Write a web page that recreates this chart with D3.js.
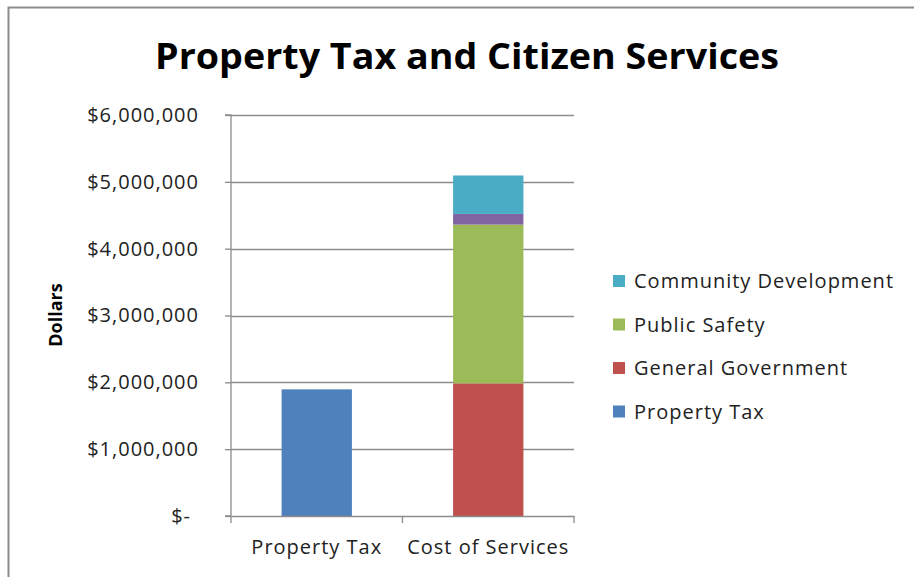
<!DOCTYPE html>
<html>
<head>
<meta charset="utf-8">
<script src="https://cdn.jsdelivr.net/npm/d3@7"></script>
<style>
  body { margin: 0; background: #fff; }
  svg { font-family: "Open Sans", sans-serif; }
</style>
</head>
<body>
<div id="vis"></div>
<script>
// data
const CATEGORIES = ["Property Tax", "Cost of Services"];
const SERIES = ["Property Tax", "General Government", "Public Safety", "Other", "Community Development"];
const PROPERTY_TAX = [1895000, 0];
const GENERAL_GOVERNMENT = [0, 1985000];
const PUBLIC_SAFETY = [0, 2375000];
const OTHER = [0, 160000];
const COMMUNITY_DEVELOPMENT = [0, 575000];
const Y_TICKS = [0, 1000000, 2000000, 3000000, 4000000, 5000000, 6000000];
const LEGEND_ITEMS = ["Community Development", "Public Safety", "General Government", "Property Tax"];
const COLORS = {
  "Property Tax": "#4f81bd",
  "General Government": "#c0504d",
  "Public Safety": "#9bbb59",
  "Other": "#8064a2",
  "Community Development": "#4bacc6"
};

const FRAME_WIDTH = 914;
const FRAME_HEIGHT = 577;
const MARGINS = {left: 231, right: 340, top: 115, bottom: 61};
const VIS_WIDTH = FRAME_WIDTH - MARGINS.left - MARGINS.right;
const VIS_HEIGHT = FRAME_HEIGHT - MARGINS.top - MARGINS.bottom;

const FRAME = d3.select("#vis")
  .append("svg")
    .attr("width", FRAME_WIDTH)
    .attr("height", FRAME_HEIGHT);

// chart border (left and top visible)
FRAME.append("path")
  .attr("d", "M8.5," + FRAME_HEIGHT + " V7.5 H" + FRAME_WIDTH)
  .attr("fill", "none")
  .attr("stroke", "#8c8c8c")
  .attr("stroke-width", 2);

const rows = CATEGORIES.map((c, i) => ({
  category: c,
  "Property Tax": PROPERTY_TAX[i],
  "General Government": GENERAL_GOVERNMENT[i],
  "Public Safety": PUBLIC_SAFETY[i],
  "Other": OTHER[i],
  "Community Development": COMMUNITY_DEVELOPMENT[i]
}));

const stacked = d3.stack().keys(SERIES)(rows);

const X_SCALE = d3.scaleBand()
  .domain(CATEGORIES)
  .range([0, VIS_WIDTH])
  .paddingInner(0.59)
  .paddingOuter(0.295);

const Y_SCALE = d3.scaleLinear()
  .domain([0, 6000000])
  .range([VIS_HEIGHT, 0]);

const G = FRAME.append("g")
  .attr("transform", "translate(" + MARGINS.left + "," + MARGINS.top + ")");

// gridlines
G.append("g")
  .selectAll("line")
  .data(Y_TICKS.slice(1))
  .enter()
  .append("line")
    .attr("x1", 0)
    .attr("x2", VIS_WIDTH)
    .attr("y1", (d) => Math.round(Y_SCALE(d)) + 0.5)
    .attr("y2", (d) => Math.round(Y_SCALE(d)) + 0.5)
    .attr("stroke", "#8c8c8c")
    .attr("stroke-width", 1.3);

// bars
G.append("g")
  .selectAll("g")
  .data(stacked)
  .enter()
  .append("g")
    .attr("fill", (d) => COLORS[d.key])
  .selectAll("rect")
  .data((d) => d)
  .enter()
  .append("rect")
    .attr("x", (d) => X_SCALE(d.data.category))
    .attr("y", (d) => Y_SCALE(d[1]))
    .attr("width", X_SCALE.bandwidth())
    .attr("height", (d) => Y_SCALE(d[0]) - Y_SCALE(d[1]));

// y axis
const fmt = (d) => d === 0 ? "$-" : "$" + d3.format(",")(d);
const yAxis = G.append("g")
  .call(d3.axisLeft(Y_SCALE).tickValues(Y_TICKS).tickFormat(fmt).tickSize(6).tickPadding(26));
yAxis.selectAll("line, path").attr("stroke", "#8c8c8c").attr("stroke-width", 1.3);
yAxis.select(".domain").attr("d", "M-6," + Y_SCALE(6000000) + "H0V" + VIS_HEIGHT + "H-6");
yAxis.selectAll("text")
  .attr("font-size", "20px")
  .attr("letter-spacing", "1px")
  .attr("font-family", "Open Sans, sans-serif")
  .attr("fill", "#222")
  .attr("dx", (d) => d === 0 ? -8 : 0);

// x axis
const xAxis = G.append("g")
  .attr("transform", "translate(0," + VIS_HEIGHT + ")")
  .call(d3.axisBottom(X_SCALE).tickSize(0).tickPadding(24));
xAxis.select(".domain").attr("stroke", "#8c8c8c").attr("stroke-width", 1.3);
xAxis.selectAll("text")
  .attr("font-size", "20px")
  .attr("letter-spacing", "1px")
  .attr("font-family", "Open Sans, sans-serif")
  .attr("fill", "#222");
G.append("g")
  .selectAll("line")
  .data([0, VIS_WIDTH / 2, VIS_WIDTH])
  .enter()
  .append("line")
    .attr("x1", (d) => d)
    .attr("x2", (d) => d)
    .attr("y1", VIS_HEIGHT)
    .attr("y2", VIS_HEIGHT + 7)
    .attr("stroke", "#8c8c8c")
    .attr("stroke-width", 1.3);

// title
FRAME.append("text")
  .attr("x", 467)
  .attr("y", 69)
  .attr("text-anchor", "middle")
  .attr("font-size", "36px")
  .attr("font-weight", "bold")
  .attr("textLength", 624)
  .attr("lengthAdjust", "spacingAndGlyphs")
  .attr("fill", "#000")
  .text("Property Tax and Citizen Services");

// y title
FRAME.append("text")
  .attr("transform", "translate(62,315) rotate(-90)")
  .attr("text-anchor", "middle")
  .attr("font-size", "18px")
  .attr("font-weight", "bold")
  .attr("fill", "#000")
  .text("Dollars");

// legend
const legend = FRAME.append("g")
  .selectAll("g")
  .data(LEGEND_ITEMS)
  .enter()
  .append("g")
    .attr("transform", (d, i) => "translate(613," + (281 + i * 43.5) + ")");
legend.append("rect")
  .attr("x", 0)
  .attr("y", -6)
  .attr("width", 12)
  .attr("height", 12)
  .attr("fill", (d) => COLORS[d]);
legend.append("text")
  .attr("x", 21)
  .attr("y", 7)
  .attr("font-size", "20px")
  .attr("letter-spacing", "1px")
  .attr("fill", "#222")
  .text((d) => d);
</script>
</body>
</html>
